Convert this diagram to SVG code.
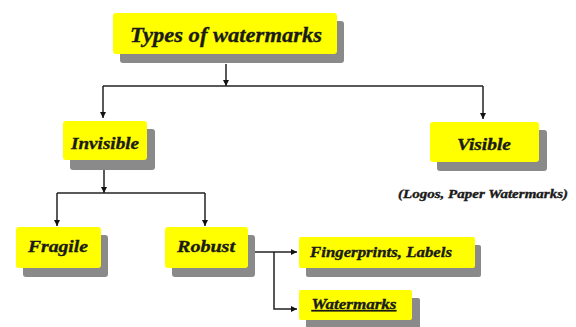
<svg xmlns="http://www.w3.org/2000/svg" width="576" height="327" viewBox="0 0 576 327">
  <style>
    .box { fill: #ffff00; }
    .shadow { fill: #8a8a8a; }
    .lbl { font-family: "Liberation Serif", "DejaVu Serif", "Times New Roman", serif; font-weight: bold; font-style: italic; fill: #1a1a1a; stroke: #1a1a1a; stroke-width: 0.35; text-anchor: middle; }
    .wire { fill: none; stroke: #222; stroke-width: 1.5; }
  </style>
  <defs>
    <marker id="arrow" viewBox="0 0 10 10" refX="10" refY="5" markerWidth="6" markerHeight="6" markerUnits="userSpaceOnUse" orient="auto">
      <path d="M0,0 L10,5 L0,10 z" fill="#111"/>
    </marker>
  </defs>
  <rect width="576" height="327" fill="#ffffff"/>

  <!-- connectors -->
  <g id="connectors">
    <path class="wire" d="M226,64 V86" marker-end="url(#arrow)"/>
    <path class="wire" d="M103,86 H483"/>
    <path class="wire" d="M103,86 V118" marker-end="url(#arrow)"/>
    <path class="wire" d="M483,86 V119" marker-end="url(#arrow)"/>
    <path class="wire" d="M104,170 V193" marker-end="url(#arrow)"/>
    <path class="wire" d="M57,193 H205"/>
    <path class="wire" d="M57,193 V226" marker-end="url(#arrow)"/>
    <path class="wire" d="M205,193 V226" marker-end="url(#arrow)"/>
    <path class="wire" d="M255,252 H297" marker-end="url(#arrow)"/>
    <path class="wire" d="M274,252 V309 H297" marker-end="url(#arrow)"/>
  </g>

  <g id="types">
    <rect class="shadow" x="120" y="21" width="224" height="42" rx="3"/>
    <rect class="box" x="113" y="13" width="224" height="41" rx="3"/>
    <text class="lbl" x="226" y="42" font-size="22" textLength="192" lengthAdjust="spacingAndGlyphs">Types of watermarks</text>
  </g>

  <g id="invisible">
    <rect class="shadow" x="70" y="129" width="85" height="41" rx="3"/>
    <rect class="box" x="63" y="121" width="84" height="39" rx="3"/>
    <text class="lbl" x="105" y="149" font-size="17" textLength="68" lengthAdjust="spacingAndGlyphs">Invisible</text>
  </g>

  <g id="visible">
    <rect class="shadow" x="437" y="130" width="110" height="41" rx="3"/>
    <rect class="box" x="430" y="122" width="109" height="40" rx="3"/>
    <text class="lbl" x="484" y="150" font-size="17" textLength="54" lengthAdjust="spacingAndGlyphs">Visible</text>
    <text class="lbl" x="483" y="198" font-size="12.5" textLength="170" lengthAdjust="spacingAndGlyphs" stroke-width="0.2">(Logos, Paper Watermarks)</text>
  </g>

  <g id="fragile">
    <rect class="shadow" x="23" y="235" width="85" height="42" rx="3"/>
    <rect class="box" x="16" y="227" width="85" height="41" rx="3"/>
    <text class="lbl" x="58" y="252" font-size="17" textLength="60" lengthAdjust="spacingAndGlyphs">Fragile</text>
  </g>

  <g id="robust">
    <rect class="shadow" x="172" y="235" width="83" height="42" rx="3"/>
    <rect class="box" x="165" y="227" width="83" height="41" rx="3"/>
    <text class="lbl" x="206" y="252" font-size="17" textLength="58" lengthAdjust="spacingAndGlyphs">Robust</text>
  </g>

  <g id="fingerprints">
    <rect class="shadow" x="306" y="245" width="175" height="32" rx="2"/>
    <rect class="box" x="299" y="237" width="176" height="31" rx="2"/>
    <text class="lbl" x="381" y="257" font-size="14" textLength="142" lengthAdjust="spacingAndGlyphs" stroke-width="0.25">Fingerprints, Labels</text>
  </g>

  <g id="watermarks">
    <rect class="shadow" x="306" y="298" width="114" height="32" rx="2"/>
    <rect class="box" x="299" y="290" width="113" height="30" rx="2"/>
    <text class="lbl" x="354" y="309" font-size="14" textLength="85" lengthAdjust="spacingAndGlyphs" stroke-width="0.25" text-decoration="underline">Watermarks</text>
  </g>
</svg>
